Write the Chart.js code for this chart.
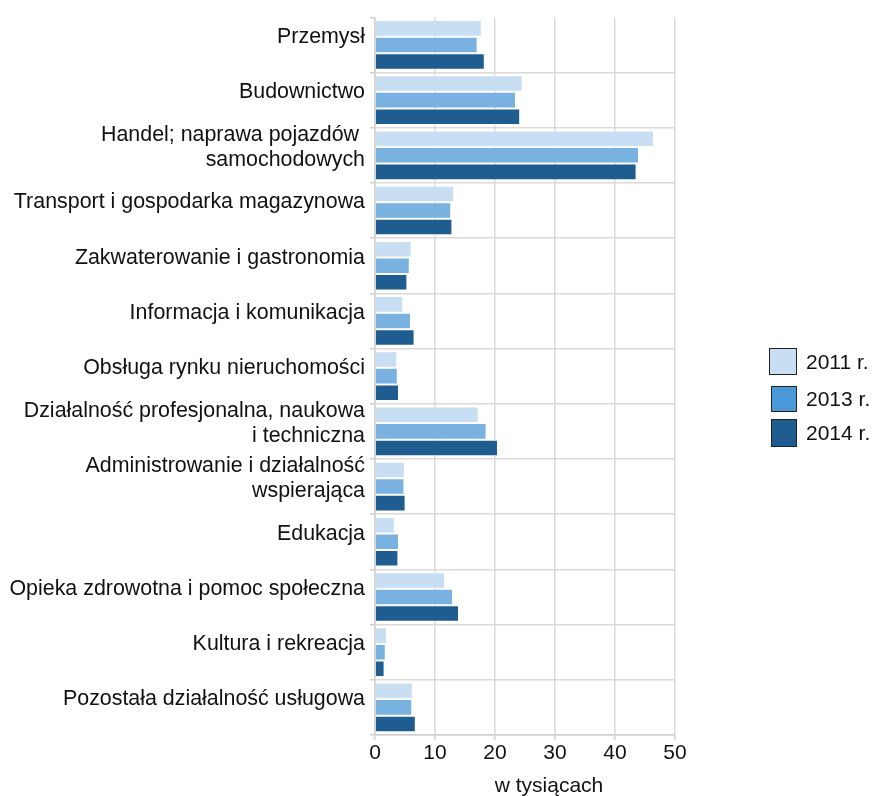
<!DOCTYPE html>
<html>
<head>
<meta charset="utf-8">
<script src="https://cdn.jsdelivr.net/npm/chart.js@4/dist/chart.umd.min.js"></script>
<style>
  html, body { margin: 0; padding: 0; background: #fff; }
  #wrap { position: relative; width: 873px; height: 796px; font-family: "Liberation Sans", Arial, sans-serif; color: #111; }
  #c { position: absolute; left: 0; top: 0; }
  .leg { position: absolute; display: flex; align-items: center; font-size: 21px; }
  .leg .box { box-sizing: border-box; border: 1.5px solid #222; margin-right: 9px; }
  #xtitle { position: absolute; top: 774px; left: 549px; transform: translateX(-50%); font-size: 21px; line-height: 21px; white-space: nowrap; }
</style>
</head>
<body>
<div id="wrap">
  <canvas id="c" width="873" height="796"></canvas>
  <div id="legend"></div>
  <div id="xtitle"></div>
</div>
<script>
const categories = [
  "Przemysł",
  "Budownictwo",
  ["Handel; naprawa pojazdów ", "samochodowych"],
  "Transport i gospodarka magazynowa",
  "Zakwaterowanie i gastronomia",
  "Informacja i komunikacja",
  "Obsługa rynku nieruchomości",
  ["Działalność profesjonalna, naukowa", "i techniczna"],
  ["Administrowanie i działalność", "wspierająca"],
  "Edukacja",
  "Opieka zdrowotna i pomoc społeczna",
  "Kultura i rekreacja",
  "Pozostała działalność usługowa"
];
const seriesNames = ["2011 r.", "2013 r.", "2014 r."];
const values2011 = [17.8, 24.6, 46.5, 13.2, 6.1, 4.7, 3.7, 17.3, 5.0, 3.3, 11.7, 2.0, 6.3];
const values2013 = [17.1, 23.5, 44.0, 12.7, 5.8, 6.0, 3.8, 18.6, 4.9, 4.0, 13.0, 1.8, 6.2];
const values2014 = [18.3, 24.2, 43.6, 12.9, 5.4, 6.6, 4.0, 20.5, 5.1, 3.9, 14.0, 1.6, 6.8];
const xTicks = [0, 10, 20, 30, 40, 50];
const axisTitle = "w tysiącach";

const barColors = ["#c8def2", "#79b2e0", "#1f5c8f"];
const legendColors = ["#c8def2", "#4a98d8", "#1f5c8f"];

const font = "'Liberation Sans', Arial, sans-serif";

new Chart(document.getElementById('c'), {
  type: 'bar',
  data: {
    labels: categories,
    datasets: [values2011, values2013, values2014].map((v, i) => ({
      label: seriesNames[i],
      data: v,
      backgroundColor: barColors[i],
      borderColor: 'rgba(255,255,255,0.55)',
      borderWidth: 1,
      categoryPercentage: 0.9,
      barPercentage: 1.0
    }))
  },
  options: {
    indexAxis: 'y',
    responsive: false,
    animation: false,
    layout: { padding: { top: 16, right: 198, bottom: 0, left: 0 } },
    plugins: { legend: { display: false }, tooltip: { enabled: false } },
    scales: {
      x: {
        min: 0, max: 50,
        afterBuildTicks: s => { s.ticks = xTicks.map(v => ({ value: v })); },
        afterFit: s => { s.height = 61; },
        grid: { color: '#dadada', lineWidth: 1.5, tickLength: 5, tickColor: '#d0d0d0' },
        border: { color: '#d0d0d0', width: 1.5 },
        ticks: { font: { family: font, size: 21 }, color: '#111', padding: 1, maxRotation: 0 }
      },
      y: {
        offset: true,
        afterFit: s => { s.width = 375; },
        grid: {
          offset: true,
          color: ctx => (ctx.index === 0 ? 'rgba(0,0,0,0)' : '#dadada'),
          lineWidth: 1.5, tickLength: 5, tickColor: '#cfcfcf'
        },
        border: { color: '#d0d0d0', width: 1.5 },
        ticks: { font: { family: font, size: 21.4, lineHeight: 1.15 }, color: '#111', padding: 5, labelOffset: -8, autoSkip: false }
      }
    }
  }
});

// Legend (HTML)
const legendRows = [
  { top: 348, left: 769, w: 28, h: 27 },
  { top: 386, left: 771, w: 26, h: 26 },
  { top: 419, left: 771, w: 26, h: 28 }
];
const legendEl = document.getElementById('legend');
seriesNames.forEach((name, i) => {
  const r = legendRows[i];
  const row = document.createElement('div');
  row.className = 'leg';
  row.style.top = r.top + 'px';
  row.style.left = r.left + 'px';
  row.style.height = r.h + 'px';
  const box = document.createElement('div');
  box.className = 'box';
  box.style.width = r.w + 'px';
  box.style.height = r.h + 'px';
  box.style.background = legendColors[i];
  box.style.marginRight = (806 - r.left - r.w) + 'px';
  const t = document.createElement('span');
  t.textContent = name;
  row.appendChild(box);
  row.appendChild(t);
  legendEl.appendChild(row);
});
document.getElementById('xtitle').textContent = axisTitle;
</script>
</body>
</html>
